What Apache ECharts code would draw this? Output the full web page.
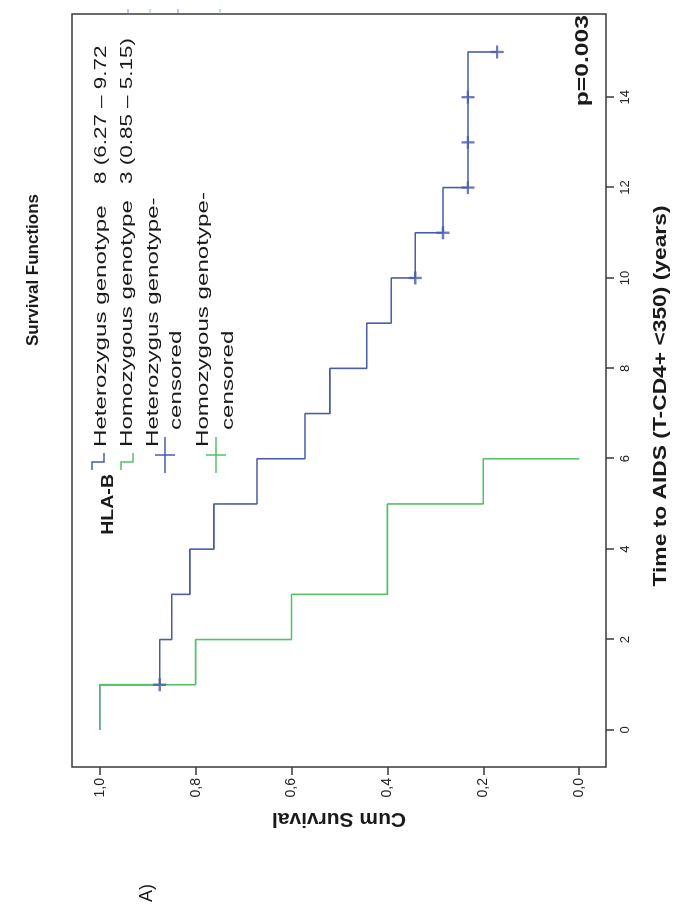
<!DOCTYPE html>
<html>
<head>
<meta charset="utf-8">
<script src="https://cdn.jsdelivr.net/npm/echarts@6/dist/echarts.min.js"></script>
<style>
    html, body { margin: 0; padding: 0; background: #fff; overflow: hidden; }
    /* chart is drawn upright at 908x676, then turned a quarter left like the scan */
    #chart {
        position: absolute; left: 0; top: 0;
        width: 908px; height: 676px;
        transform-origin: 0 0;
        transform: translate(0, 908px) rotate(-90deg);
    }
</style>
</head>
<body>
<div id="chart"></div>
<script>
var timeTicks = [0, 2, 4, 6, 8, 10, 12, 14]
var survivalTicks = [0, 0.2, 0.4, 0.6, 0.8, 1.0]

var heteroTime = [0, 1, 2, 3, 4, 5, 6, 7, 8, 9, 10, 11, 12, 15]
var heteroSurvival = [1, 0.875, 0.85, 0.812, 0.762, 0.672, 0.572, 0.52, 0.443, 0.392, 0.342, 0.284, 0.232, 0.171]
var homoTime = [0, 1, 2, 3, 5, 6]
var homoSurvival = [1, 0.8, 0.6, 0.4, 0.2, 0]

var heteroCensorTime = [1, 10, 11, 12, 13, 14, 15]
var heteroCensorSurvival = [0.875, 0.342, 0.284, 0.232, 0.232, 0.232, 0.171]

var legendNames = ['Heterozygus genotype', 'Homozygous genotype', 'Heterozygus genotype-', 'Homozygous genotype-']
var legendMedians = ['8 (6.27 \u2013 9.72', '3 (0.85 \u2013 5.15)']

var BLUE = '#4a5ca8'
var GREEN = '#55c066'
var FONT = '"Liberation Sans", Arial, sans-serif'
var CROSS = 'path://M4.1,0 H5.9 V4.1 H10 V5.9 H5.9 V10 H4.1 V5.9 H0 V4.1 H4.1 Z'

function pairs(xs, ys) {
    return xs.map(function (x, i) { return [x, ys[i]] })
}

function label(text, x, y, opts) {
    opts = opts || {}
    return {
        type: 'text', x: x, y: y,
        scaleX: opts.scale || 1,
        rotation: opts.rotation || 0,
        style: {
            text: text,
            font: (opts.weight || 'normal') + ' ' + (opts.size || 17) + 'px ' + FONT,
            fill: '#1a1a1a',
            textAlign: opts.align || 'left',
            textVerticalAlign: 'middle'
        }
    }
}

function stepIcon(x, y, color) {
    return {
        type: 'polyline',
        shape: { points: [[x, y - 6], [x + 8, y - 6], [x + 8, y + 6], [x + 17, y + 6]] },
        style: { stroke: color, lineWidth: 1.5, fill: null }
    }
}

function crossIcon(x, y, color) {
    return {
        type: 'group',
        children: [
            { type: 'line', shape: { x1: x - 18, y1: y, x2: x + 18, y2: y }, style: { stroke: color, lineWidth: 1.5 } },
            { type: 'line', shape: { x1: x, y1: y - 10, x2: x, y2: y + 10 }, style: { stroke: color, lineWidth: 1.5 } }
        ]
    }
}

// little cut-off marks poking above the frame in the scan
function stub(v, color) {
    return { type: 'line', shape: { x1: 894, y1: v, x2: 899, y2: v }, style: { stroke: color, lineWidth: 1, opacity: 0.7 } }
}

var LS = 1.42
var graphics = [
    label('Survival Functions', 638, 33, { weight: 'bold', size: 17, align: 'center' }),
    label('A)', 6, 147, { size: 18 }),
    label('p=0.003', 893, 583, { weight: 'bold', size: 19, align: 'right', scale: 1.3 }),
    label('HLA-B', 434, 108, { weight: 'bold', size: 17, align: 'right', scale: 1.15 }),
    label('Time to AIDS (T-CD4+ <350) (years)', 512, 661, { weight: 'bold', size: 19, align: 'center', scale: 1.2 }),

    stepIcon(438, 98, BLUE),
    stepIcon(438, 127, GREEN),
    crossIcon(453, 165, BLUE),
    crossIcon(453, 216, GREEN),

    label(legendNames[0], 461, 101, { scale: LS }),
    label(legendNames[1], 461, 127, { scale: LS }),
    label(legendNames[2], 461, 153, { scale: LS }),
    label('censored', 478, 176, { scale: LS }),
    label(legendNames[3], 461, 203, { scale: LS }),
    label('censored', 478, 228, { scale: LS }),
    label(legendMedians[0], 724, 101, { scale: 1.32 }),
    label(legendMedians[1], 724, 127, { scale: 1.32 }),

    stub(128, BLUE), stub(150, GREEN), stub(178, BLUE), stub(220, GREEN)
]

var option = {
    animation: false,
    backgroundColor: '#fff',
    grid: {
        left: 141, right: 14, top: 72, bottom: 70,
        show: true, borderColor: '#3a3a3a', borderWidth: 1.5, backgroundColor: '#fff'
    },
    xAxis: {
        type: 'value',
        min: -0.82, max: 15.84,
        axisLine: { show: false, onZero: false },
        axisTick: { show: true, length: 8, customValues: timeTicks, lineStyle: { color: '#3a3a3a', width: 1.5 } },
        axisLabel: { customValues: timeTicks, margin: 13, fontFamily: FONT, fontSize: 13, color: '#222' },
        splitLine: { show: false }
    },
    yAxis: {
        type: 'value',
        min: -0.056, max: 1.058,
        name: 'Cum Survival',
        nameLocation: 'middle',
        nameGap: 32,
        nameTextStyle: { fontFamily: FONT, fontWeight: 'bold', fontSize: 21, color: '#1a1a1a' },
        axisLine: { show: false, onZero: false },
        axisTick: { show: true, length: 8, customValues: survivalTicks, lineStyle: { color: '#3a3a3a', width: 1.5 } },
        axisLabel: {
            customValues: survivalTicks, margin: 11, fontFamily: FONT, fontSize: 14, color: '#222',
            formatter: function (v) { return v.toFixed(1).replace('.', ',') }
        },
        splitLine: { show: false }
    },
    series: [{
        name: legendNames[0],
        type: 'line',
        step: 'end',
        showSymbol: false,
        data: pairs(heteroTime, heteroSurvival),
        lineStyle: { color: BLUE, width: 1.6 },
        z: 2
    }, {
        // green sits on top where the two curves share the first steps
        name: legendNames[1],
        type: 'line',
        step: 'end',
        showSymbol: false,
        data: pairs(homoTime, homoSurvival),
        lineStyle: { color: GREEN, width: 1.6 },
        z: 3
    }, {
        name: legendNames[2],
        type: 'scatter',
        symbol: CROSS,
        symbolSize: 13,
        data: pairs(heteroCensorTime, heteroCensorSurvival),
        itemStyle: { color: BLUE },
        z: 4
    }],
    graphic: graphics
}

var chart = echarts.init(document.getElementById('chart'), null, { renderer: 'canvas' })
chart.setOption(option)
</script>
</body>
</html>
